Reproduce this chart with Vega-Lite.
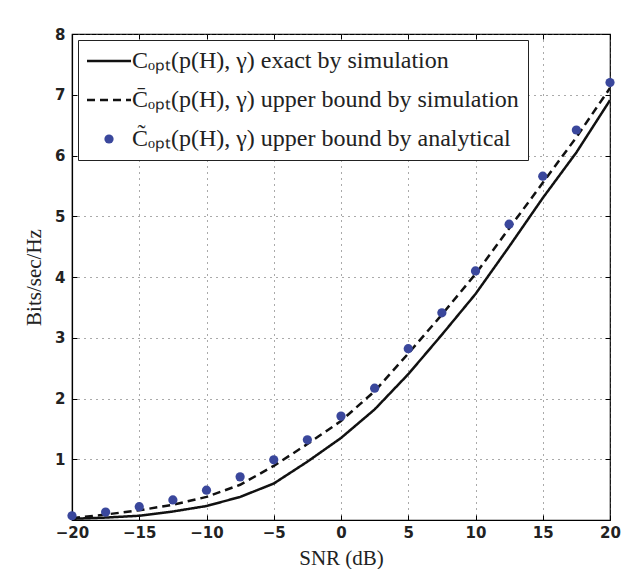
{
  "$schema": "https://vega.github.io/schema/vega-lite/v6.json",
  "width": 538,
  "height": 486,
  "autosize": {"type": "none"},
  "padding": {"left": 72, "top": 34, "right": 20, "bottom": 49},
  "background": "white",
  "config": {
    "view": {"stroke": "black", "strokeWidth": 1.2},
    "axis": {
      "labelFont": "DejaVu Sans",
      "labelFontSize": 15,
      "labelFontWeight": "bold",
      "labelColor": "#222",
      "labelFlush": false,
      "titleFont": "Liberation Serif",
      "titleFontSize": 21,
      "titleFontWeight": "normal",
      "titleColor": "#222",
      "grid": true,
      "gridDash": [1, 5],
      "gridColor": "#555",
      "gridWidth": 1,
      "domainColor": "black",
      "domainWidth": 1.2,
      "tickColor": "black",
      "tickSize": -5,
      "format": "d"
    }
  },
  "resolve": {"axis": {"x": "independent", "y": "independent"}},
  "datasets": {
    "curves": [
      {"snr": -20, "series": "Cₒₚₜ(p(H), γ) exact by simulation", "value": 0.02},
      {"snr": -17.5, "series": "Cₒₚₜ(p(H), γ) exact by simulation", "value": 0.04},
      {"snr": -15, "series": "Cₒₚₜ(p(H), γ) exact by simulation", "value": 0.07},
      {"snr": -12.5, "series": "Cₒₚₜ(p(H), γ) exact by simulation", "value": 0.14},
      {"snr": -10, "series": "Cₒₚₜ(p(H), γ) exact by simulation", "value": 0.23},
      {"snr": -7.5, "series": "Cₒₚₜ(p(H), γ) exact by simulation", "value": 0.38},
      {"snr": -5, "series": "Cₒₚₜ(p(H), γ) exact by simulation", "value": 0.6},
      {"snr": -2.5, "series": "Cₒₚₜ(p(H), γ) exact by simulation", "value": 0.96},
      {"snr": 0, "series": "Cₒₚₜ(p(H), γ) exact by simulation", "value": 1.35},
      {"snr": 2.5, "series": "Cₒₚₜ(p(H), γ) exact by simulation", "value": 1.82},
      {"snr": 5, "series": "Cₒₚₜ(p(H), γ) exact by simulation", "value": 2.4},
      {"snr": 7.5, "series": "Cₒₚₜ(p(H), γ) exact by simulation", "value": 3.05},
      {"snr": 10, "series": "Cₒₚₜ(p(H), γ) exact by simulation", "value": 3.72},
      {"snr": 12.5, "series": "Cₒₚₜ(p(H), γ) exact by simulation", "value": 4.5},
      {"snr": 15, "series": "Cₒₚₜ(p(H), γ) exact by simulation", "value": 5.3},
      {"snr": 17.5, "series": "Cₒₚₜ(p(H), γ) exact by simulation", "value": 6.05},
      {"snr": 20, "series": "Cₒₚₜ(p(H), γ) exact by simulation", "value": 6.91},
      {"snr": -20, "series": "C̄ₒₚₜ(p(H), γ) upper bound by simulation", "value": 0.03},
      {"snr": -17.5, "series": "C̄ₒₚₜ(p(H), γ) upper bound by simulation", "value": 0.09},
      {"snr": -15, "series": "C̄ₒₚₜ(p(H), γ) upper bound by simulation", "value": 0.16},
      {"snr": -12.5, "series": "C̄ₒₚₜ(p(H), γ) upper bound by simulation", "value": 0.25},
      {"snr": -10, "series": "C̄ₒₚₜ(p(H), γ) upper bound by simulation", "value": 0.38},
      {"snr": -7.5, "series": "C̄ₒₚₜ(p(H), γ) upper bound by simulation", "value": 0.58},
      {"snr": -5, "series": "C̄ₒₚₜ(p(H), γ) upper bound by simulation", "value": 0.89},
      {"snr": -2.5, "series": "C̄ₒₚₜ(p(H), γ) upper bound by simulation", "value": 1.25},
      {"snr": 0, "series": "C̄ₒₚₜ(p(H), γ) upper bound by simulation", "value": 1.63},
      {"snr": 2.5, "series": "C̄ₒₚₜ(p(H), γ) upper bound by simulation", "value": 2.12},
      {"snr": 5, "series": "C̄ₒₚₜ(p(H), γ) upper bound by simulation", "value": 2.74},
      {"snr": 7.5, "series": "C̄ₒₚₜ(p(H), γ) upper bound by simulation", "value": 3.38},
      {"snr": 10, "series": "C̄ₒₚₜ(p(H), γ) upper bound by simulation", "value": 4.05},
      {"snr": 12.5, "series": "C̄ₒₚₜ(p(H), γ) upper bound by simulation", "value": 4.8},
      {"snr": 15, "series": "C̄ₒₚₜ(p(H), γ) upper bound by simulation", "value": 5.55},
      {"snr": 17.5, "series": "C̄ₒₚₜ(p(H), γ) upper bound by simulation", "value": 6.3},
      {"snr": 20, "series": "C̄ₒₚₜ(p(H), γ) upper bound by simulation", "value": 7.11}
    ],
    "dots": [
      {"snr": -20, "series": "C̃ₒₚₜ(p(H), γ) upper bound by analytical", "value": 0.07},
      {"snr": -17.5, "series": "C̃ₒₚₜ(p(H), γ) upper bound by analytical", "value": 0.13},
      {"snr": -15, "series": "C̃ₒₚₜ(p(H), γ) upper bound by analytical", "value": 0.22},
      {"snr": -12.5, "series": "C̃ₒₚₜ(p(H), γ) upper bound by analytical", "value": 0.33},
      {"snr": -10, "series": "C̃ₒₚₜ(p(H), γ) upper bound by analytical", "value": 0.49},
      {"snr": -7.5, "series": "C̃ₒₚₜ(p(H), γ) upper bound by analytical", "value": 0.71},
      {"snr": -5, "series": "C̃ₒₚₜ(p(H), γ) upper bound by analytical", "value": 0.99},
      {"snr": -2.5, "series": "C̃ₒₚₜ(p(H), γ) upper bound by analytical", "value": 1.32},
      {"snr": 0, "series": "C̃ₒₚₜ(p(H), γ) upper bound by analytical", "value": 1.71},
      {"snr": 2.5, "series": "C̃ₒₚₜ(p(H), γ) upper bound by analytical", "value": 2.17},
      {"snr": 5, "series": "C̃ₒₚₜ(p(H), γ) upper bound by analytical", "value": 2.82},
      {"snr": 7.5, "series": "C̃ₒₚₜ(p(H), γ) upper bound by analytical", "value": 3.41},
      {"snr": 10, "series": "C̃ₒₚₜ(p(H), γ) upper bound by analytical", "value": 4.1},
      {"snr": 12.5, "series": "C̃ₒₚₜ(p(H), γ) upper bound by analytical", "value": 4.87},
      {"snr": 15, "series": "C̃ₒₚₜ(p(H), γ) upper bound by analytical", "value": 5.66},
      {"snr": 17.5, "series": "C̃ₒₚₜ(p(H), γ) upper bound by analytical", "value": 6.42},
      {"snr": 20, "series": "C̃ₒₚₜ(p(H), γ) upper bound by analytical", "value": 7.2}
    ]
  },
  "layer": [
    {
      "data": {"name": "curves"},
      "mark": {"type": "line", "strokeWidth": 2.5, "clip": true},
      "encoding": {
        "x": {"field": "snr", "type": "quantitative", "scale": {"domain": [-20, 20], "nice": false, "padding": 0},
              "axis": {"values": [-20, -15, -10, -5, 0, 5, 10, 15, 20], "title": "SNR (dB)", "labelPadding": 10, "titlePadding": 7}},
        "y": {"field": "value", "type": "quantitative", "scale": {"domain": [0, 8], "nice": false, "padding": 0},
              "axis": {"values": [1, 2, 3, 4, 5, 6, 7, 8], "title": "Bits/sec/Hz", "labelPadding": 12, "titlePadding": 10}},
        "color": {"field": "series", "type": "nominal",
          "scale": {"domain": ["Cₒₚₜ(p(H), γ) exact by simulation", "C̄ₒₚₜ(p(H), γ) upper bound by simulation", "C̃ₒₚₜ(p(H), γ) upper bound by analytical"],
                    "range": ["#111111", "#111111", "#3a479c"]},
          "legend": {
            "title": null, "orient": "top-left", "offset": 6,
            "labelFont": "Liberation Serif", "labelFontSize": 24, "labelColor": "#222", "labelLimit": 1000,
            "symbolStrokeWidth": 2.5, "symbolSize": 1936, "symbolOffset": 10,
            "strokeColor": "#222", "fillColor": "white", "padding": 9, "rowPadding": 15, "labelOffset": 11,
            "encode": {"symbols": {"update": {
              "size": {"signal": "datum.index === 2 ? 85 : 1936"},
              "shape": {"signal": "datum.index === 2 ? 'circle' : 'stroke'"},
              "fill": {"signal": "datum.index === 2 ? '#3a479c' : 'transparent'"},
              "strokeWidth": {"signal": "datum.index === 2 ? 0 : 2.5"},
              "strokeDash": {"signal": "datum.index === 1 ? [8, 5] : [1, 0]"}
            }}}
          }
        },
        "strokeDash": {"field": "series", "type": "nominal",
          "scale": {"domain": ["Cₒₚₜ(p(H), γ) exact by simulation", "C̄ₒₚₜ(p(H), γ) upper bound by simulation", "C̃ₒₚₜ(p(H), γ) upper bound by analytical"],
                    "range": [[1, 0], [8, 5], [1, 0]]},
          "legend": null}
      }
    },
    {
      "data": {"name": "dots"},
      "mark": {"type": "point", "filled": true, "size": 85, "opacity": 1, "clip": false},
      "encoding": {
        "x": {"field": "snr", "type": "quantitative", "axis": null},
        "y": {"field": "value", "type": "quantitative", "axis": null},
        "color": {"field": "series", "type": "nominal"}
      }
    },
    {
      "data": {"name": "dots"},
      "mark": {"type": "point", "opacity": 0, "size": 1},
      "encoding": {
        "x": {"field": "snr", "type": "quantitative",
              "axis": {"orient": "top", "values": [-20, -15, -10, -5, 0, 5, 10, 15, 20], "labels": false, "grid": false, "domain": false, "title": null, "tickSize": -5}},
        "y": {"field": "value", "type": "quantitative",
              "axis": {"orient": "right", "values": [1, 2, 3, 4, 5, 6, 7, 8], "labels": false, "grid": false, "domain": false, "title": null, "tickSize": -5}}
      }
    }
  ]
}
